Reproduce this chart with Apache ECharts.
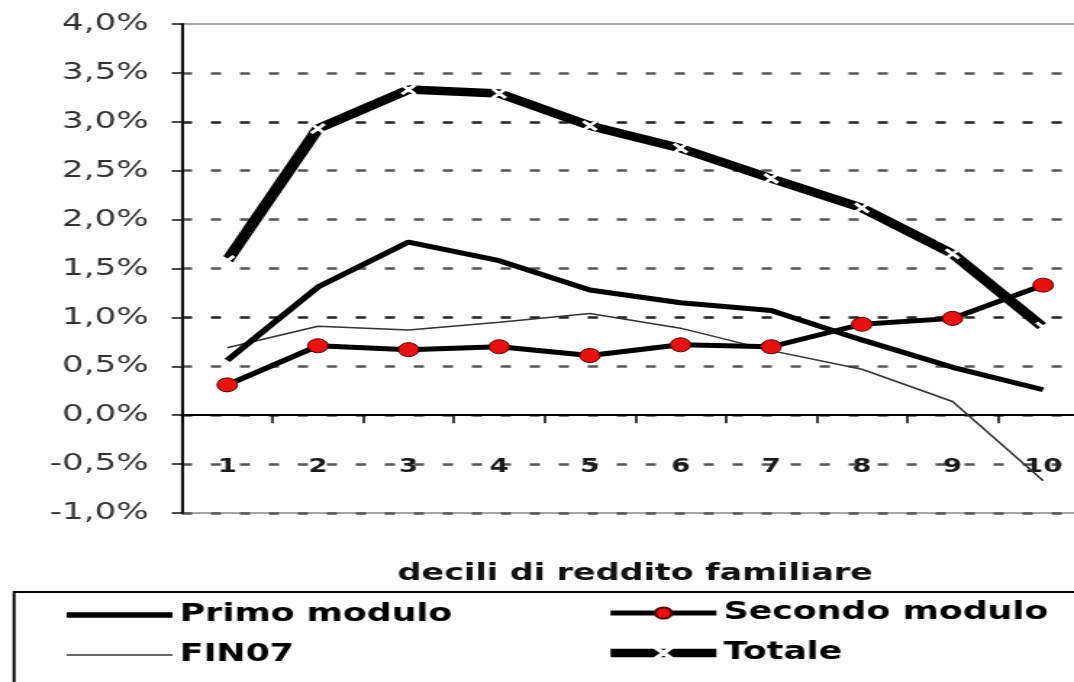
<!DOCTYPE html>
<html>
<head>
<meta charset="utf-8">
<script src="https://cdn.jsdelivr.net/npm/echarts@6/dist/echarts.min.js"></script>
<style>
  html, body { margin: 0; padding: 0; background: #fff; overflow: hidden; }
  /* the chart is laid out narrow and widened horizontally, as in the printed figure */
  #wrap { width: 1074px; height: 682px; overflow: hidden; position: relative; }
  #chart { width: 741px; height: 682px; transform: scaleX(1.4494); transform-origin: 0 0; }
</style>
</head>
<body>
<div id="wrap"><div id="chart"></div></div>
<script>
// Deciles of household income
const categories = ['1', '2', '3', '4', '5', '6', '7', '8', '9', '10'];

// Shares in percent
const primoModulo   = [0.56, 1.31, 1.77, 1.58, 1.28, 1.15, 1.07, 0.77, 0.49, 0.26];
const secondoModulo = [0.31, 0.71, 0.67, 0.70, 0.61, 0.72, 0.70, 0.93, 0.99, 1.33];
const fin07         = [0.69, 0.91, 0.87, 0.95, 1.04, 0.89, 0.66, 0.47, 0.14, -0.67];
const totale        = [1.58, 2.93, 3.33, 3.29, 2.96, 2.73, 2.42, 2.12, 1.65, 0.90];

// Value axis range and step
const yMin = -1.0;
const yMax = 4.0;
const yStep = 0.5;

const seriesNames = ['Primo modulo', 'Secondo modulo', 'FIN07', 'Totale'];
const axisTitle = 'decili di reddito familiare';

const pct = v => v.toFixed(1).replace('.', ',') + '%';

// small cross marker used on the total line
const crossPath = 'path://M0,1L1,0L5,4L9,0L10,1L6,5L10,9L9,10L5,6L1,10L0,9L4,5Z';
// plain bars used as legend keys for the lines without markers
const thickKey = 'path://M0,0H73V5.5H0Z';
const thinKey = 'path://M0,0H73V1.5H0Z';

const chart = echarts.init(document.getElementById('chart'), null, { renderer: 'canvas' });

const legendText = { fontFamily: 'DejaVu Sans', fontWeight: 'bold', fontSize: 24, color: '#000' };

chart.setOption({
  animation: false,
  backgroundColor: '#fff',
  grid: {
    left: 125.5, top: 24, width: 625.5, height: 489,
    show: true, borderColor: '#8c8c8c', borderWidth: 1.5,
    outerBoundsMode: 'none'
  },
  xAxis: {
    type: 'category',
    data: categories,
    boundaryGap: true,
    name: axisTitle,
    nameLocation: 'middle',
    nameGap: 50,
    nameTextStyle: { fontFamily: 'DejaVu Sans', fontWeight: 'bold', fontSize: 23, color: '#111' },
    axisLine: { onZero: true, lineStyle: { color: '#000', width: 2 } },
    axisTick: { show: true, length: 8, lineStyle: { color: '#000', width: 1.5 } },
    axisLabel: { margin: -55, fontFamily: 'DejaVu Sans', fontWeight: 'bold', fontSize: 19, color: '#1a1a1a' },
    splitLine: { show: false }
  },
  yAxis: {
    type: 'value',
    min: yMin, max: yMax, interval: yStep,
    axisLine: { show: true, onZero: false, lineStyle: { color: '#111', width: 2 } },
    axisTick: { show: true, length: 7, lineStyle: { color: '#111', width: 1.5 } },
    axisLabel: { margin: 23, formatter: pct, fontFamily: 'DejaVu Sans', fontSize: 23.5, color: '#333' },
    splitLine: {
      show: true,
      lineStyle: {
        type: [7, 13],
        width: 2.5,
        color: ['#555', '#555', '#555', '#555', '#222', '#555', '#555', '#555', '#222', '#555', 'rgba(0,0,0,0)']
      }
    }
  },
  legend: [
    {
      orient: 'vertical', left: 46, top: 603, padding: 0,
      itemWidth: 73, itemHeight: 14, itemGap: 16,
      data: [
        { name: seriesNames[0], icon: thickKey, itemStyle: { color: '#000' } },
        { name: seriesNames[2], icon: thinKey, itemStyle: { color: '#333' } }
      ],
      textStyle: legendText,
      selectedMode: false
    },
    {
      orient: 'vertical', left: 417, top: 601, padding: 0,
      itemWidth: 73, itemHeight: 14, itemGap: 16,
      data: [seriesNames[1], seriesNames[3]],
      textStyle: legendText,
      lineStyle: { width: 'inherit' },
      selectedMode: false
    }
  ],
  graphic: [
    {
      type: 'rect', silent: true, z: -1,
      shape: { x: 9.7, y: 592, width: 800, height: 200 },
      style: { fill: 'none', stroke: '#000', lineWidth: 2 }
    }
  ],
  series: [
    {
      name: seriesNames[2], type: 'line', data: fin07,
      symbol: 'none', z: 2,
      lineStyle: { color: '#333', width: 1.5 },
      itemStyle: { color: '#333' }
    },
    {
      name: seriesNames[0], type: 'line', data: primoModulo,
      symbol: 'none', z: 3,
      lineStyle: { color: '#000', width: 5 },
      itemStyle: { color: '#000' }
    },
    {
      name: seriesNames[1], type: 'line', data: secondoModulo,
      symbol: 'circle', symbolSize: 14, z: 4,
      lineStyle: { color: '#000', width: 5 },
      itemStyle: { color: '#ea1010', borderColor: '#5a0000', borderWidth: 1 }
    },
    {
      name: seriesNames[3], type: 'line', data: totale,
      symbol: crossPath, symbolSize: 9, z: 5,
      lineStyle: { color: '#000', width: 8.5 },
      itemStyle: { color: '#9a9a9a', borderColor: '#fff', borderWidth: 1.5 }
    }
  ]
});
</script>
</body>
</html>
